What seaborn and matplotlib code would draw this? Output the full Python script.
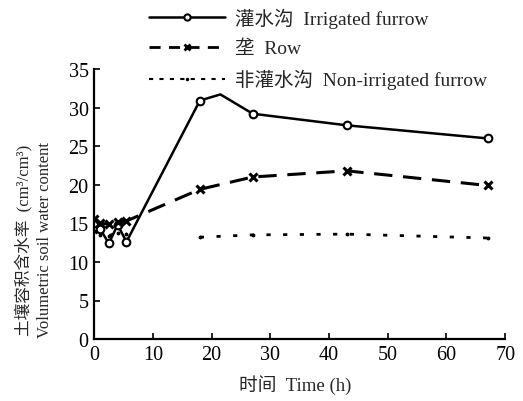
import matplotlib
matplotlib.use("Agg")
import matplotlib.pyplot as plt
from matplotlib.lines import Line2D
import seaborn as sns
import pandas as pd

# ---- data ----
time_h = [0, 1, 2.5, 4, 5.5, 18, 27, 43, 67]
irrigated = [15.0, 14.3, 12.4, 14.8, 12.6, 30.9, 29.2, 27.7, 26.0]
row = [15.6, 15.0, 14.9, 15.2, 15.3, 19.4, 21.0, 21.8, 19.9]
non_irrigated = [14.0, 13.5, 13.4, 13.8, 13.6, 13.2, 13.5, 13.6, 13.1]
non_segment = [0, 0, 0, 0, 0, 1, 1, 1, 1]
# crest of the irrigated curve as drawn in the reference (no marker there)
irr_crest_t = 21.5
irr_crest_v = 31.7

labels = ["灌水沟  Irrigated furrow", "垄  Row", "非灌水沟  Non-irrigated furrow"]
x_ticks = [0, 10, 20, 30, 40, 50, 60, 70]
y_ticks = [0, 5, 10, 15, 20, 25, 30, 35]

sns.set_theme(style="ticks")
fam = ["Liberation Serif", "Noto Sans CJK SC", "DejaVu Sans"]
plt.rcParams["font.family"] = fam

df_irr = pd.DataFrame({"t": time_h + [irr_crest_t],
                       "v": irrigated + [irr_crest_v]}).sort_values("t")
crest_idx = list(df_irr["t"]).index(irr_crest_t)
irr_marks = [i for i in range(len(df_irr)) if i != crest_idx]
df_row = pd.DataFrame({"t": time_h, "v": row})
df_non = pd.DataFrame({"t": time_h, "v": non_irrigated, "seg": non_segment})

fig = plt.figure(figsize=(5.23, 4.02), dpi=100)
ax = fig.add_axes([0.180, 0.154, 0.786, 0.672])

sns.lineplot(data=df_irr, x="t", y="v", ax=ax, color="black", lw=1.8,
             sort=True, marker="o", markersize=5.5, markerfacecolor="white",
             markeredgecolor="black", markeredgewidth=1.5,
             markevery=irr_marks)
sns.lineplot(data=df_row, x="t", y="v", ax=ax, color="black", lw=2.2,
             linestyle=(0, (6, 3.5)), marker="x", markersize=6,
             markeredgecolor="black", markeredgewidth=2.2)
sns.lineplot(data=df_non, x="t", y="v", units="seg", estimator=None, ax=ax,
             color="black", lw=2.0, linestyle=(0, (1.5, 4.5)),
             marker=".", markersize=4, markeredgecolor="black",
             markerfacecolor="black")

ax.set_xlim(0, 70)
ax.set_ylim(0, 35)
ax.set_xticks(x_ticks)
ax.set_yticks(y_ticks)
ax.tick_params(direction="in", length=4, width=1.2, labelsize=14.5,
               colors="black", pad=4)
for lab in ax.get_xticklabels() + ax.get_yticklabels():
    lab.set_family(fam)
sns.despine(ax=ax)
for s in ["left", "bottom"]:
    ax.spines[s].set_linewidth(1.6)
    ax.spines[s].set_color("black")

ax.set_xlabel("时间  Time (h)", fontsize=13.5, family=fam)
ax.xaxis.set_label_coords(0.49, -0.13)
ax.set_ylabel("土壤容积含水率  (cm³/cm³)\nVolumetric soil water content",
              fontsize=12, family=fam, linespacing=1.3)
ax.yaxis.set_label_coords(-0.10, 0.37)

handles = [
    Line2D([], [], color="black", lw=1.8, marker="o", markersize=4.5,
           markerfacecolor="white", markeredgewidth=1.5),
    Line2D([], [], color="black", lw=2.0, linestyle=(0, (4, 3)), marker="x",
           markersize=5, markeredgewidth=2),
    Line2D([], [], color="black", lw=1.5, linestyle=(0, (2, 3)), marker=".",
           markersize=3),
]
fig.legend(handles, labels, loc="upper left", bbox_to_anchor=(0.285, 0.978),
           frameon=False, handlelength=3.9, handletextpad=0.5,
           labelspacing=0.6, borderpad=0, borderaxespad=0,
           prop={"family": fam, "size": 14})

fig.savefig("out.png", dpi=100)
